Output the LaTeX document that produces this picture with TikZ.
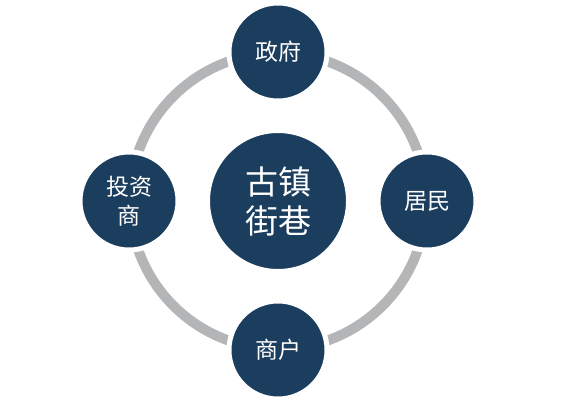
\documentclass[tikz,border=0pt]{standalone}
\usepackage{fontspec}
\setmainfont{Noto Sans CJK SC}
\usepackage{xcolor}
\usetikzlibrary{positioning, shapes}
\definecolor{navy}{RGB}{27,61,94}
\definecolor{ringgray}{RGB}{180,181,183}
\tikzstyle{ring} = [line width=5pt, draw=ringgray]
\tikzstyle{smallnode}=[circle, fill=navy, draw=white, line width=2.5pt, minimum size=49pt, inner sep=0pt, align=center, text=white, font=\fontsize{11.5}{14.5}\selectfont]
\tikzstyle{bignode}=[circle, fill=navy, draw=white, line width=2pt, minimum size=70pt, inner sep=0pt, align=center, text=white, font=\fontsize{16.5}{19.5}\selectfont]

\begin{document}
\begin{tikzpicture}[x=0.5pt, y=-0.5pt, node distance=74.5pt]
        \useasboundingbox (0,0) rectangle (565,400);
        \node (c) [bignode] at (278,201) {古镇\\街巷};
        \draw [ring] (c.center) circle (74pt);
        \node (n1) [smallnode, above of=c] {政府};
        \node (n2) [smallnode, right of=c] {居民};
        \node (n3) [smallnode, below of=c] {商户};
        \node (n4) [smallnode, left of=c] {投资\\商};
      \end{tikzpicture}
\end{document}
